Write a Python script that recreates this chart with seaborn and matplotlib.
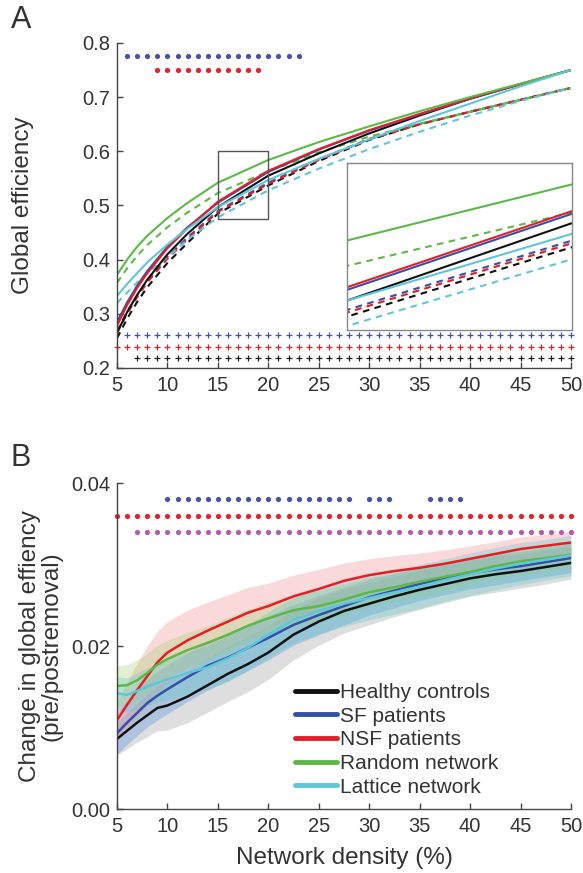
import numpy as np
import pandas as pd
import matplotlib
matplotlib.use("Agg")
import matplotlib.pyplot as plt
import seaborn as sns
from matplotlib.patches import Rectangle
from matplotlib.lines import Line2D

# ---------------- Panel A data ----------------
dens_a = [5, 6, 7, 8, 10, 12, 15, 20, 25, 30, 35, 40, 45, 50]
hc_pre = [.265, .303, .335, .363, .410, .448, .497, .555, .596, .633, .666, .697, .724, .750]
sf_pre = [.285, .321, .352, .379, .424, .460, .505, .562, .603, .638, .668, .697, .724, .750]
nsf_pre = [.278, .316, .348, .375, .421, .458, .507, .564, .604, .639, .669, .698, .724, .750]
rand_pre = [.372, .400, .424, .444, .477, .505, .542, .584, .617, .646, .674, .700, .725, .750]
latt_pre = [.333, .355, .375, .395, .428, .457, .497, .547, .586, .622, .656, .688, .720, .750]
hc_post = [.255, .291, .322, .349, .394, .431, .485, .537, .582, .621, .650, .673, .695, .717]
sf_post = [.268, .304, .334, .361, .405, .441, .490, .542, .585, .623, .650, .673, .695, .717]
nsf_post = [.265, .300, .331, .358, .402, .438, .488, .540, .584, .622, .650, .673, .695, .717]
rand_post = [.357, .384, .407, .427, .460, .487, .523, .563, .598, .627, .651, .673, .695, .717]
latt_post = [.320, .339, .358, .375, .405, .437, .478, .528, .568, .604, .636, .666, .693, .717]

sigA_sf_dots = list(range(6, 24))      # y = 0.775
sigA_nsf_dots = list(range(9, 20))     # y = 0.75
sigA_sf_plus = list(range(6, 51))      # y = 0.26
sigA_nsf_plus = list(range(5, 51))     # y = 0.239
sigA_hc_plus = list(range(7, 51))      # y = 0.219
sigA_levels = [0.775, 0.75, 0.26, 0.239, 0.219]

# ---------------- Panel B data ----------------
dens_b = [5, 6, 7, 8, 9, 10, 12, 14, 16, 18, 20, 22.5, 25, 27.5, 30, 32.5, 35, 37.5, 40, 42.5, 45, 47.5, 50]
hc_b = [.0086, .0096, .0106, .0115, .0124, .0127, .0138, .0152, .0166, .0178, .0192, .0214, .0230, .0243, .0252,
        .0261, .0269, .0276, .0283, .0288, .0292, .0297, .0302]
sf_b = [.0093, .0106, .0118, .0130, .0139, .0147, .0162, .0176, .0186, .0198, .0210, .0226, .0238, .0249, .0260,
        .0268, .0276, .0283, .0289, .0294, .0298, .0303, .0308]
nsf_b = [.0109, .0128, .0146, .0163, .0180, .0192, .0207, .0219, .0230, .0241, .0249, .0261, .0270, .0280, .0287,
         .0292, .0296, .0301, .0307, .0313, .0319, .0323, .0327]
rand_b = [.0151, .0152, .0158, .0167, .0177, .0184, .0195, .0204, .0214, .0225, .0234, .0244, .0249, .0257, .0266,
          .0272, .0279, .0285, .0291, .0298, .0304, .0308, .0312]
latt_b = [.0142, .0140, .0145, .0150, .0155, .0159, .0167, .0174, .0185, .0198, .0214, .0232, .0243, .0252, .0259,
          .0266, .0273, .0281, .0288, .0295, .0301, .0306, .0311]
hc_sd = [.0020, .0022, .0024, .0026, .0028, .0030, .0032, .0033, .0034, .0034, .0033, .0031, .0029, .0027, .0026,
         .0025, .0024, .0023, .0022, .0022, .0021, .0021, .0020]
sf_sd = [.0026, .0027, .0028, .0029, .0030, .0030, .0030, .0030, .0029, .0028, .0027, .0025, .0024, .0023, .0022,
         .0021, .0020, .0020, .0019, .0019, .0018, .0018, .0018]
nsf_sd = [.0022, .0028, .0033, .0037, .0038, .0038, .0037, .0035, .0033, .0031, .0028, .0026, .0024, .0022, .0020,
          .0019, .0018, .0017, .0016, .0015, .0015, .0014, .0013]
rand_sd = [.0025, .0025, .0025, .0024, .0024, .0023, .0022, .0021, .0021, .0020, .0020, .0019, .0019, .0019, .0018,
           .0018, .0018, .0018, .0017, .0017, .0017, .0017, .0017]
latt_sd = [.0020, .0021, .0022, .0023, .0024, .0025, .0026, .0027, .0028, .0028, .0028, .0028, .0028, .0028, .0027,
           .0027, .0027, .0026, .0026, .0026, .0026, .0025, .0025]

sigB_sf = list(range(10, 29)) + list(range(30, 33)) + list(range(36, 40))   # y = 0.038
sigB_nsf = list(range(5, 51))                                               # y = 0.036
sigB_both = list(range(7, 51))                                              # y = 0.034
sigB_levels = [0.038, 0.036, 0.034]

labels = ["Healthy controls", "SF patients", "NSF patients", "Random network", "Lattice network"]
xticks = [5, 10, 15, 20, 25, 30, 35, 40, 45, 50]
yticks_a = [0.2, 0.3, 0.4, 0.5, 0.6, 0.7, 0.8]
yticks_b = [0.00, 0.02, 0.04]

# ---------------- style ----------------
sns.set_theme(style="white")
plt.rcParams["font.family"] = ["Liberation Sans", "DejaVu Sans"]
TXT = "#333333"
colors = ["#111111", "#3650a8", "#e41e26", "#5cb946", "#5ec6d8"]
band_colors = ["#9a9a9a", "#4a8fe0", "#f08a90", "#a8d070", "#5cc8c8"]
TICK_FS = 14.5
LAB_FS = 17.5

fig = plt.figure(figsize=(5.83, 8.73), dpi=100)
axA = fig.add_axes([0.2007, 0.5785, 0.7787, 0.3723])
axB = fig.add_axes([0.2007, 0.0733, 0.7787, 0.3734])


def style_axis(ax):
    for s in ["top", "right"]:
        ax.spines[s].set_visible(False)
    for s in ["left", "bottom"]:
        ax.spines[s].set_color("#444444")
        ax.spines[s].set_linewidth(1.0)
    ax.tick_params(direction="in", length=4, width=1, color="#444444",
                   labelsize=TICK_FS, labelcolor=TXT, pad=5, left=True, bottom=True)
    ax.tick_params(axis="x", pad=6)


pre = [hc_pre, sf_pre, nsf_pre, rand_pre, latt_pre]
post = [hc_post, sf_post, nsf_post, rand_post, latt_post]


def draw_A_lines(ax, lw):
    for vals, c in zip(post, colors):
        sns.lineplot(x=dens_a, y=vals, ax=ax, color=c, lw=lw, linestyle=(0, (3.2, 2.6)), legend=False)
    for vals, c in zip(pre, colors):
        sns.lineplot(x=dens_a, y=vals, ax=ax, color=c, lw=lw, legend=False)


# ---------------- Panel A ----------------
draw_A_lines(axA, 1.5)
dot_kw = dict(s=14, linewidth=0, clip_on=False, legend=False)
sns.scatterplot(x=sigA_sf_dots, y=[sigA_levels[0]] * len(sigA_sf_dots), ax=axA, color="#4452a8", **dot_kw)
sns.scatterplot(x=sigA_nsf_dots, y=[sigA_levels[1]] * len(sigA_nsf_dots), ax=axA, color="#e8202a", **dot_kw)
plus_kw = dict(marker="+", s=22, linewidth=0.9, clip_on=False, legend=False)
sns.scatterplot(x=sigA_sf_plus, y=[sigA_levels[2]] * len(sigA_sf_plus), ax=axA, color="#4452a8", **plus_kw)
sns.scatterplot(x=sigA_nsf_plus, y=[sigA_levels[3]] * len(sigA_nsf_plus), ax=axA, color="#e8202a", **plus_kw)
sns.scatterplot(x=sigA_hc_plus, y=[sigA_levels[4]] * len(sigA_hc_plus), ax=axA, color="#222222", **plus_kw)

axA.add_patch(Rectangle((15, 0.475), 5, 0.125, fill=False, edgecolor="#555555", lw=1.0, zorder=5))
axA.set_xlim(5, 50)
axA.set_ylim(0.2, 0.8)
axA.set_xticks(xticks)
axA.set_yticks(yticks_a)
axA.set_yticklabels([f"{v:.1f}" for v in yticks_a])
style_axis(axA)
axA.set_ylabel("Global efficiency", fontsize=LAB_FS, color=TXT)
axA.yaxis.set_label_coords(-0.183, 0.5)

# inset
axI = fig.add_axes([0.5952, 0.622, 0.386, 0.1913])
draw_A_lines(axI, 1.5)
axI.set_xlim(15, 20)
axI.set_ylim(0.475, 0.6)
axI.set_xticks([])
axI.set_yticks([])
axI.set_xlabel("")
axI.set_ylabel("")
for s in axI.spines.values():
    s.set_color("#888888")
    s.set_linewidth(1.0)
    s.set_visible(True)

# ---------------- Panel B ----------------
means = [hc_b, sf_b, nsf_b, rand_b, latt_b]
sds = [hc_sd, sf_sd, nsf_sd, rand_sd, latt_sd]
for m, sd, bc in zip(means, sds, band_colors):
    m = np.array(m); sd = np.array(sd)
    axB.fill_between(dens_b, m - sd, m + sd, color=bc, alpha=0.32, linewidth=0)
for m, c in zip(means, colors):
    sns.lineplot(x=dens_b, y=m, ax=axB, color=c, lw=1.8, legend=False)

sns.scatterplot(x=sigB_sf, y=[sigB_levels[0]] * len(sigB_sf), ax=axB, color="#4452a8", **dot_kw)
sns.scatterplot(x=sigB_nsf, y=[sigB_levels[1]] * len(sigB_nsf), ax=axB, color="#e8202a", **dot_kw)
sns.scatterplot(x=sigB_both, y=[sigB_levels[2]] * len(sigB_both), ax=axB, color="#b45ab4", **dot_kw)

axB.set_xlim(5, 50)
axB.set_ylim(0, 0.04)
axB.set_xticks(xticks)
axB.set_yticks(yticks_b)
axB.set_yticklabels([f"{v:.2f}" for v in yticks_b])
style_axis(axB)
axB.set_ylabel("Change in global effiency\n(pre/postremoval)", fontsize=LAB_FS, color=TXT, linespacing=1.0)
axB.yaxis.set_label_coords(-0.12, 0.5)
axB.set_xlabel("Network density (%)", fontsize=LAB_FS, color=TXT)
axB.xaxis.set_label_coords(0.5, -0.118)

handles = [Line2D([0], [0], color=c, lw=3.5) for c in colors]
axB.legend(handles, labels, loc="upper left", bbox_to_anchor=(0.37, 0.418), frameon=False,
           fontsize=15, handlelength=2.0, handletextpad=0.15, labelspacing=0.22, borderpad=0,
           labelcolor=TXT)

fig.text(0.018, 0.977, "A", fontsize=22, color=TXT, va="center", ha="left")
fig.text(0.018, 0.4754, "B", fontsize=22, color=TXT, va="center", ha="left")

fig.savefig("out.png", dpi=100)
